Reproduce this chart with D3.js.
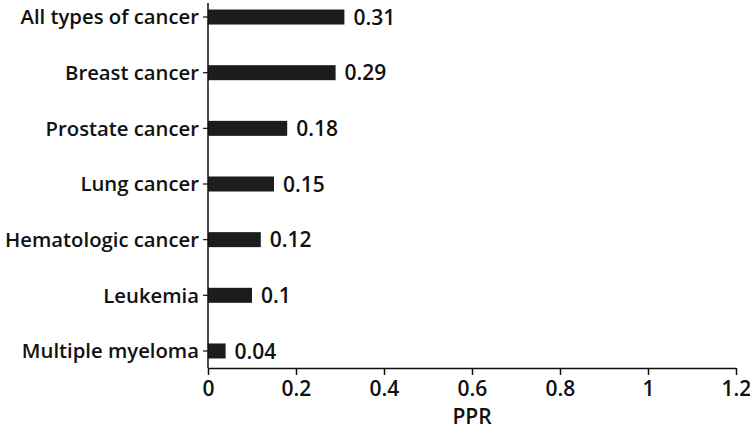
<!DOCTYPE html>
<html><head><meta charset="utf-8">
<script src="https://cdn.jsdelivr.net/npm/d3@7"></script>
<style>body{margin:0;background:#fff}svg{display:block}text{font-family:"Open Sans",sans-serif;font-weight:600;fill:#111}</style>
</head><body><svg id="c" width="750" height="430"></svg>
<script>
const categories = ["All types of cancer","Breast cancer","Prostate cancer","Lung cancer","Hematologic cancer","Leukemia","Multiple myeloma"];
const values = [0.31,0.29,0.18,0.15,0.12,0.1,0.04];
const valueLabels = ["0.31","0.29","0.18","0.15","0.12","0.1","0.04"];
const xTicks = [0,0.2,0.4,0.6,0.8,1,1.2];
const xTickLabels = ["0","0.2","0.4","0.6","0.8","1","1.2"];
const xTitle = "PPR";

const FS = 21;
const svg = d3.select("#c");
const m = {left:208, right:736, top:-10.8, bottom:368};
const x = d3.scaleLinear().domain([0,1.2]).range([m.left,m.right]);
const y = d3.scaleBand().domain(categories).range([m.top, 378.8]).padding(0);
const cy = c => y(c)+y.bandwidth()/2;

const data = categories.map((c,i)=>({c,v:values[i],l:valueLabels[i]}));

svg.selectAll("rect.bar").data(data).join("rect").attr("class","bar")
  .attr("x",x(0)).attr("y",d=>cy(d.c)-7.5).attr("width",d=>x(d.v)-x(0)).attr("height",15)
  .attr("fill","#1c1c1c");

svg.selectAll("text.val").data(data).join("text").attr("class","val")
  .attr("x",d=>x(d.v)+9).attr("y",d=>cy(d.c)).attr("dy","0.36em")
  .attr("font-size",FS).text(d=>d.l);

const xa = svg.append("g").attr("transform",`translate(0,${m.bottom})`)
  .call(d3.axisBottom(x).tickValues(xTicks).tickFormat((d,i)=>xTickLabels[i]).tickSize(7).tickSizeOuter(0).tickPadding(6));
xa.select(".domain").attr("stroke","#111").attr("stroke-width",1.5);
xa.selectAll(".tick line").attr("stroke","#111").attr("stroke-width",1.5);
xa.selectAll(".tick text").attr("font-size",FS).attr("fill","#111").style("font-family","Open Sans").style("font-weight",600);

const ya = svg.append("g").attr("transform",`translate(${m.left},0)`)
  .call(d3.axisLeft(y).tickSize(5).tickSizeOuter(0).tickPadding(4));
ya.select(".domain").attr("d",`M0,3V${m.bottom}`).attr("stroke","#111").attr("stroke-width",1.5);
ya.selectAll(".tick line").attr("stroke","#111").attr("stroke-width",1.2);
ya.selectAll(".tick text").attr("font-size",20.3).attr("dy","0.36em").attr("fill","#111").style("font-family","Open Sans").style("font-weight",600);

svg.append("text").attr("x",x(0.6)).attr("y",424).attr("text-anchor","middle").attr("font-size",FS).text(xTitle);
</script></body></html>
